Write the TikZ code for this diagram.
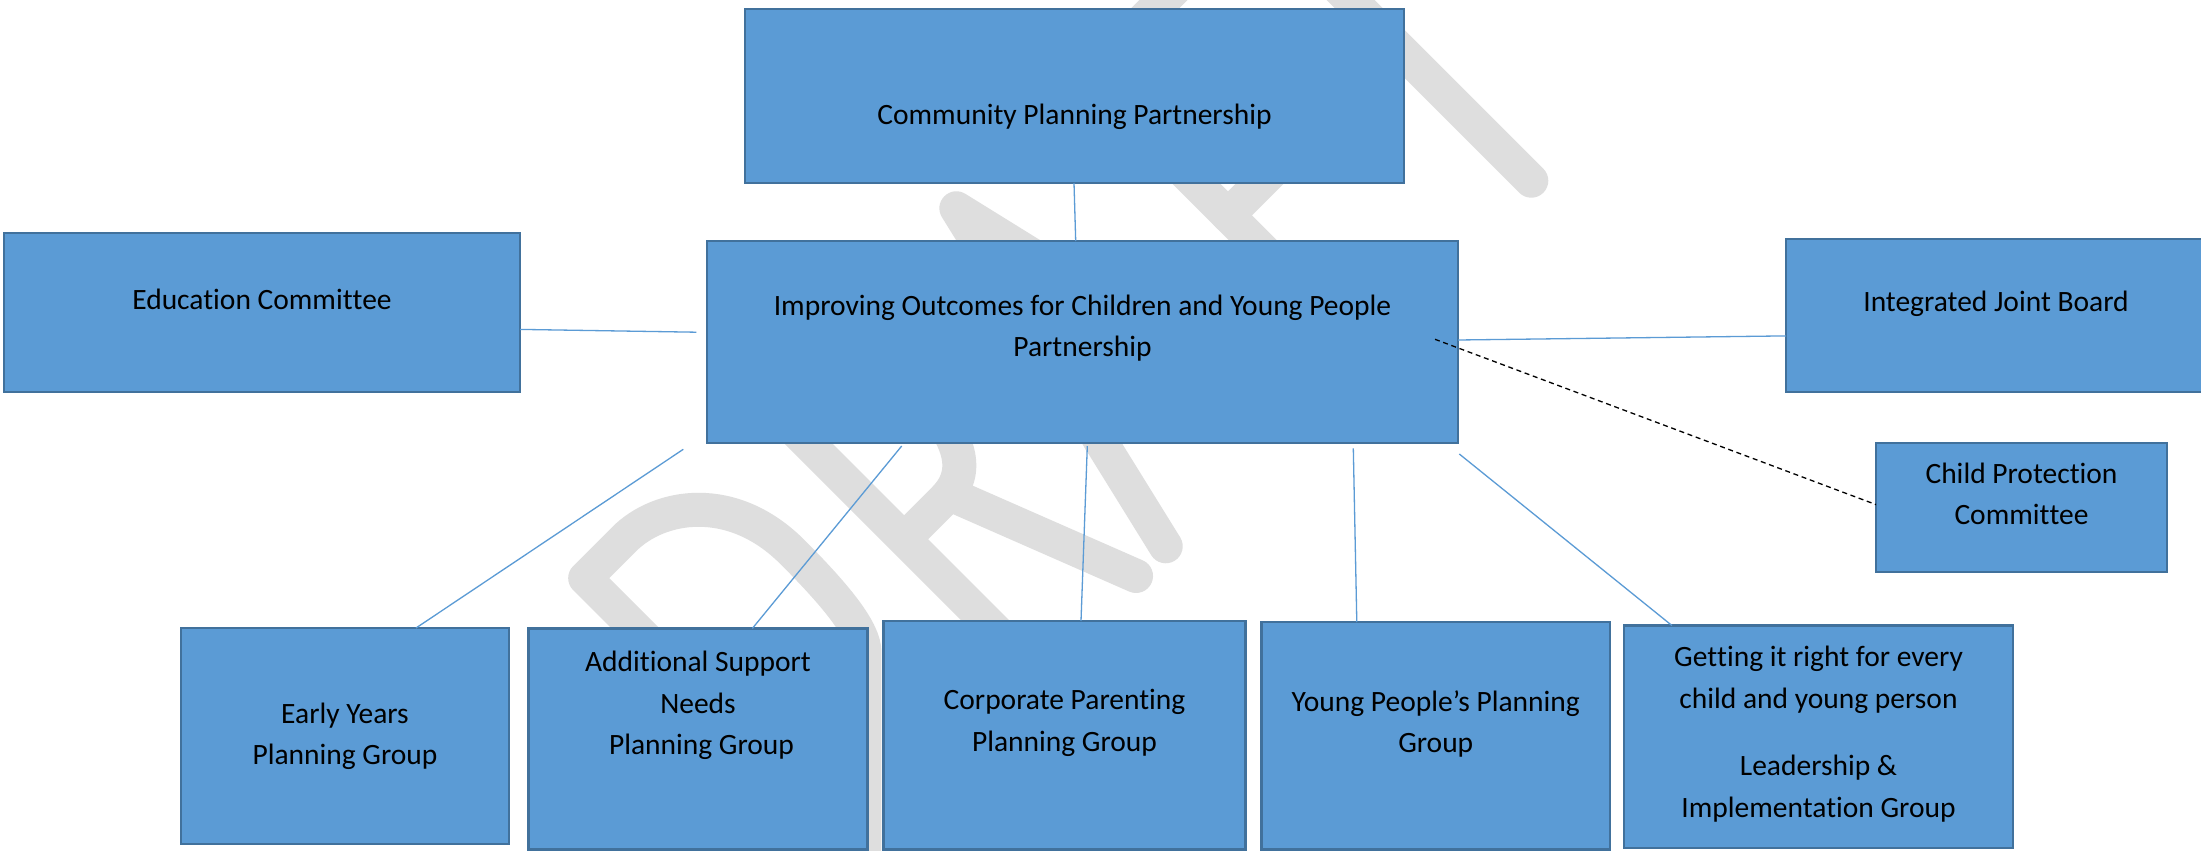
\documentclass[tikz,border=0pt]{standalone}
\usepackage{fontspec}
\setmainfont{Carlito}[Ligatures={NoCommon,NoRequired,NoContextual},Contextuals={NoAlternate}]
\definecolor{boxfill}{RGB}{91,155,213}
\definecolor{boxline}{RGB}{65,113,156}
\definecolor{connblue}{RGB}{91,155,213}
\definecolor{wmgray}{RGB}{222,222,222}
% box text: #1 width, #2 height, #3 first baseline below top, #4 text
\newcommand\btx[4]{\vbox to #2pt{\hsize=#1pt\relax\centering\parskip=0pt\relax\hbox{}\vskip\dimexpr #3pt-\baselineskip\relax #4\par\vfil}}
\begin{document}
\begin{tikzpicture}[x=1pt,y=-1pt,
  bx/.style={draw=boxline, line width=2.5pt, fill=boxfill, inner sep=0pt, outer sep=0pt,
             font=\fontsize{29.5}{41.5}\selectfont},
  conn/.style={draw=connblue, line width=1.3pt},
  dashline/.style={draw=black, line width=1.3pt, dash pattern=on 5pt off 3.7pt},
  wmstroke/.style={draw=wmgray, line width=34pt, line cap=round, line join=round}]
\path[use as bounding box, fill=white] (0,0) rectangle (2201,851);

% DRAFT watermark (letter frame rotated 45 degrees)
\begin{scope}[shift={(856,856)}, x={(0.7071pt,0.7071pt)}, y={(-0.7071pt,0.7071pt)}]
  % D
  \draw[wmstroke] (12,0) -- (5,0) -- (5,388) -- (60,388) .. controls (110,388) and (170,345) .. (170,260)
        .. controls (170,195) and (165,153) .. (150,138) -- cycle;
  % R
  \draw[wmstroke] (258,0) -- (258,388) -- (315,388) .. controls (352,388) and (372,360) .. (372,290)
        .. controls (372,220) and (352,190) .. (315,190) -- (258,190);
  \draw[wmstroke] (322,190) -- (396,0);
  % A
  \draw[wmstroke] (438,0) -- (529,387) -- (620,0);
  \draw[wmstroke] (466,120) -- (592,120);
  % F
  \draw[wmstroke] (845,388) -- (716,388) -- (716,0);
  \draw[wmstroke] (716,190) -- (825,190);
  % T
  \draw[wmstroke] (830,388) -- (1080,388);
  \draw[wmstroke] (955,388) -- (955,0);
\end{scope}

% boxes
\node[bx] (cpp) at (1074.5,96) {\btx{659}{174}{115}{Community Planning Partnership}};
\node[bx] (edu) at (262,312.5) {\btx{516}{159}{76}{Education Commit\kern0pt tee}};
\node[bx] (io) at (1082.5,342) {\btx{751}{202}{74}{Improving Outcomes for Children and Young People\\Partnership}};
\node[bx] (ijb) at (1996,315.5) {\btx{420}{153}{72}{Integrated Joint Board}};
\node[bx] (cpc) at (2021.5,507.5) {\btx{291}{129}{40}{Child Protec\kern0pt tion\\Commit\kern0pt tee}};
\node[bx] (ey) at (345,736) {\btx{328}{216}{95}{Early Years\\Planning Group}};
\node[bx] (asn) at (698,739) {\btx{339}{221}{43}{Addit\kern0pt ional Support\\Needs\\\hspace*{7pt}Planning Group}};
\node[bx] (cp) at (1064.5,735.25) {\btx{362}{228.5}{88.5}{Corporate Parent\kern0pt ing\\Planning Group}};
\node[bx] (yp) at (1435.75,735.75) {\btx{348.5}{227.5}{89}{Young People’s Planning\\Group}};
\node[bx] (gir) at (1818.5,736.75) {\btx{389}{222.5}{41}{Get\kern0pt t\kern0pt ing it right for every\\child and young person\\[26.3pt]Leadership \&\\Implementat\kern0pt ion Group}};

% free ends of connectors
\coordinate (fedu) at (696.4,332.2);
\coordinate (fdash) at (1435,339.3);
\coordinate (fey) at (683.3,449.3);
\coordinate (fasn) at (901.7,446);
\coordinate (fcp) at (1087.3,446);
\coordinate (fyp) at (1353.3,448.3);
\coordinate (fgir) at (1459.3,454);

% connectors
\draw[conn] (1074,0 |- cpp.south) -- (1075.7,0 |- io.north);
\draw[conn] (edu.east |- 0,329.4) -- (fedu);
\draw[conn] (io.east |- 0,340) -- (ijb.west |- 0,335.9);
\draw[dashline] (fdash) -- (cpc.west |- 0,504.6);
\draw[conn] (fey) -- (416,0 |- ey.north);
\draw[conn] (fasn) -- (752.3,0 |- asn.north);
\draw[conn] (fcp) -- (1081,0 |- cp.north);
\draw[conn] (fyp) -- (1356.8,0 |- yp.north);
\draw[conn] (fgir) -- (1671.9,0 |- gir.north);
\end{tikzpicture}
\end{document}
